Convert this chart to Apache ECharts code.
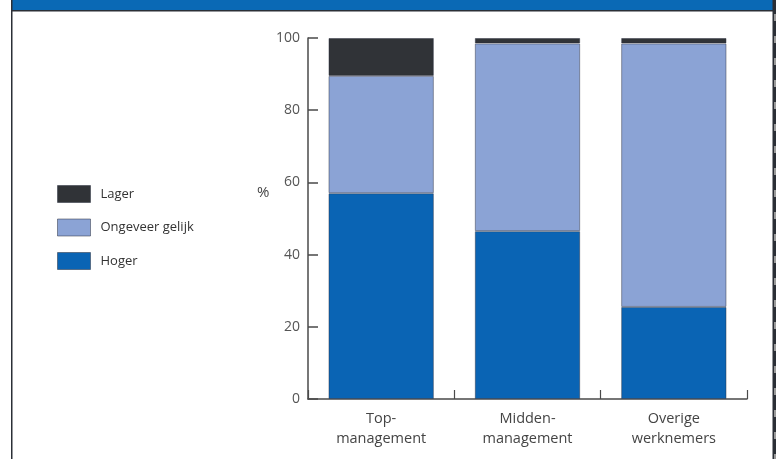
<!DOCTYPE html>
<html>
<head>
<meta charset="utf-8">
<script src="https://cdn.jsdelivr.net/npm/echarts@6/dist/echarts.min.js"></script>
<style>
  html, body { margin: 0; padding: 0; background: #fff; }
  #chart { width: 776px; height: 459px; }
</style>
</head>
<body>
<div id="chart"></div>
<script>
// Categories and shares (%) per response group
const categories = ['Top-\nmanagement', 'Midden-\nmanagement', 'Overige\nwerknemers'];
const hoger = [57, 46.5, 25.5];
const ongeveerGelijk = [32.5, 52, 73];
const lager = [10.5, 1.5, 1.5];
const yTicks = [0, 20, 40, 60, 80, 100];

const FONT = '"Open Sans", "DejaVu Sans", sans-serif';
const AXIS_COLOR = '#4a4a4a';

const chart = echarts.init(document.getElementById('chart'), null, { renderer: 'canvas' });

const barStyle = (color) => ({
  color: color,
  borderColor: 'rgba(40,45,60,0.45)',
  borderWidth: 1
});

// Film-strip style marks along the right edge
const stripMarks = [];
for (let y = 14; y < 459; y += 22) {
  stripMarks.push({
    type: 'rect',
    shape: { x: 774, y: y, width: 2, height: 7 },
    style: { fill: '#9a9a9a' },
    silent: true
  });
}

chart.setOption({
  animation: false,
  backgroundColor: '#ffffff',
  textStyle: { fontFamily: FONT },
  graphic: [
    // header band
    { type: 'rect', shape: { x: 11, y: 0, width: 765, height: 10 }, style: { fill: '#0a69b5' }, silent: true },
    { type: 'rect', shape: { x: 11, y: 10, width: 765, height: 1.5 }, style: { fill: '#2b2f36' }, silent: true },
    // left frame line
    { type: 'rect', shape: { x: 11, y: 0, width: 1.5, height: 459 }, style: { fill: '#2b2f36' }, silent: true },
    // right frame strip
    { type: 'rect', shape: { x: 772.5, y: 0, width: 3.5, height: 459 }, style: { fill: '#2b2f36' }, silent: true },
    ...stripMarks,
    // unit label
    { type: 'text', left: 257, top: 185, style: { text: '%', font: '15px ' + FONT, fill: '#444' }, silent: true }
  ],
  legend: {
    orient: 'vertical',
    left: 57,
    top: 185,
    padding: 0,
    itemWidth: 33,
    itemHeight: 17,
    itemGap: 15.5,
    icon: 'rect',
    data: ['Lager', 'Ongeveer gelijk', 'Hoger'],
    textStyle: { fontFamily: FONT, fontSize: 13, color: '#333', padding: [0, 0, 0, 5] },
    itemStyle: { borderColor: 'rgba(40,45,60,0.5)', borderWidth: 1 }
  },
  grid: { left: 308, right: 29, top: 38, bottom: 60 },
  xAxis: {
    type: 'category',
    data: categories,
    boundaryGap: true,
    axisLine: { lineStyle: { color: AXIS_COLOR, width: 1.5 } },
    axisTick: { show: true, inside: true, length: 9, interval: 0, lineStyle: { color: AXIS_COLOR, width: 1.2 } },
    axisLabel: { interval: 0, margin: 10, fontSize: 14.5, lineHeight: 20, color: '#444', fontFamily: FONT }
  },
  yAxis: {
    type: 'value',
    min: yTicks[0],
    max: yTicks[yTicks.length - 1],
    interval: 20,
    axisLine: { show: true, lineStyle: { color: AXIS_COLOR, width: 1.5 } },
    axisTick: { show: true, inside: true, length: 10, lineStyle: { color: AXIS_COLOR, width: 1.5 } },
    axisLabel: { margin: 8, fontSize: 14, color: '#555', fontFamily: FONT },
    splitLine: { show: false }
  },
  series: [
    { name: 'Hoger', type: 'bar', stack: 'totaal', data: hoger, barWidth: '72%', itemStyle: barStyle('#0a64b4') },
    { name: 'Ongeveer gelijk', type: 'bar', stack: 'totaal', data: ongeveerGelijk, barWidth: '72%', itemStyle: barStyle('#8ba3d5') },
    { name: 'Lager', type: 'bar', stack: 'totaal', data: lager, barWidth: '72%', itemStyle: barStyle('#303337') }
  ]
});
</script>
</body>
</html>
